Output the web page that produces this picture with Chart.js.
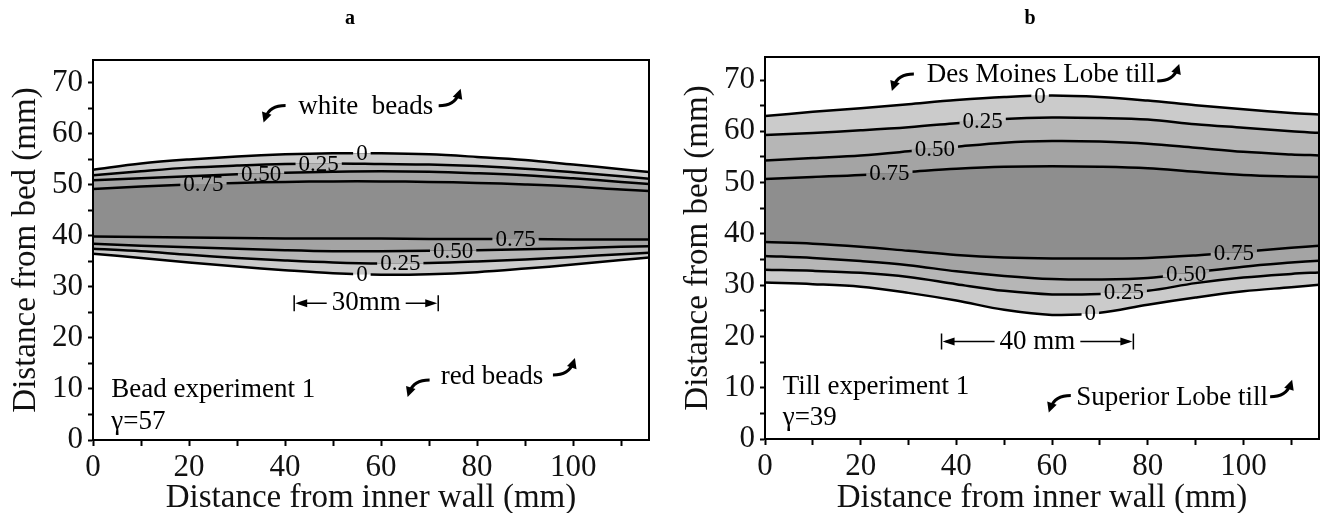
<!DOCTYPE html>
<html lang="en">
<head>
<meta charset="UTF-8">
<title>Shear zone contours</title>
<script src="https://cdn.jsdelivr.net/npm/chart.js"></script>
<style>
  body { margin: 0; background: #fff; }
  .panel { position: absolute; top: 0; }
  #panelA { left: 0; }
  #panelB { left: 660px; }
</style>
</head>
<body>
<div class="panel" id="panelA"><canvas id="chartA" width="660" height="513"></canvas></div>
<div class="panel" id="panelB"><canvas id="chartB" width="661" height="513"></canvas></div>

<script>
// x positions (distance from inner wall, mm) where contours were read
const xPos = [0, 10, 20, 30, 40, 50, 60, 70, 80, 90, 100, 110, 116];
const levels = ['0', '0.25', '0.50', '0.75'];

// panel a: bead experiment 1
const aUp0   = [53.0, 54.2, 55.0, 55.6, 56.0, 56.2, 56.2, 56.0, 55.5, 54.9, 54.0, 53.1, 52.5];
const aUp25  = [51.9, 52.7, 53.4, 53.8, 54.1, 54.2, 54.1, 54.0, 53.7, 53.2, 52.5, 51.7, 51.2];
const aUp50  = [50.9, 51.3, 51.7, 52.1, 52.4, 52.6, 52.7, 52.6, 52.3, 51.9, 51.3, 50.6, 50.2];
const aUp75  = [49.2, 49.7, 50.1, 50.4, 50.6, 50.7, 50.7, 50.6, 50.4, 50.1, 49.7, 49.1, 48.8];
const aLo75  = [39.9, 39.8, 39.7, 39.6, 39.5, 39.5, 39.5, 39.4, 39.4, 39.4, 39.3, 39.3, 39.3];
const aLo50  = [38.5, 38.1, 37.8, 37.5, 37.2, 37.0, 37.0, 37.1, 37.2, 37.4, 37.6, 37.9, 38.0];
const aLo25  = [37.5, 37.0, 36.3, 35.7, 35.2, 34.8, 34.6, 34.7, 35.0, 35.4, 35.9, 36.4, 36.7];
const aLo0   = [36.5, 35.7, 34.8, 34.0, 33.3, 32.7, 32.4, 32.5, 32.9, 33.6, 34.4, 35.3, 35.8];
// x of each contour label: upper 0, .25, .50, .75, lower .75, .50, .25, 0
const aLabelX = [56, 47, 35, 23, 88, 75, 64, 56];

// panel b: till experiment 1
const bUp0   = [63.0, 63.8, 64.5, 65.3, 66.1, 66.7, 67.0, 66.7, 66.0, 65.1, 64.3, 63.6, 63.3];
const bUp25  = [59.3, 59.7, 60.2, 60.8, 61.6, 62.4, 62.7, 62.6, 62.3, 61.4, 60.7, 60.0, 59.7];
const bUp50  = [54.3, 54.8, 55.3, 56.1, 57.0, 57.8, 58.1, 58.0, 57.6, 56.8, 56.0, 55.5, 55.3];
const bUp75  = [50.7, 51.1, 51.5, 52.1, 52.7, 53.1, 53.2, 53.1, 52.8, 52.1, 51.5, 51.2, 51.1];
const bLo75  = [38.4, 38.1, 37.5, 36.7, 35.9, 35.4, 35.2, 35.2, 35.3, 35.8, 36.5, 37.3, 37.7];
const bLo50  = [35.7, 35.3, 34.7, 33.9, 32.7, 31.8, 31.2, 31.1, 31.4, 32.5, 33.6, 34.4, 34.8];
const bLo25  = [33.0, 32.8, 32.4, 31.6, 30.2, 28.9, 28.2, 28.3, 28.9, 30.4, 31.5, 32.2, 32.5];
const bLo0   = [30.5, 30.2, 29.7, 28.5, 27.0, 25.2, 24.2, 24.6, 26.2, 27.6, 28.8, 29.6, 30.1];
const bLabelX = [57.5, 45.5, 35.5, 26, 98, 88, 75, 68];

// band shades: outside, 0-0.25, 0.25-0.5, 0.5-0.75, >0.75
const shades = ['#ffffff', '#cbcbcb', '#b6b6b6', '#a4a4a4', '#8e8e8e'];

Chart.defaults.font.family = '"Liberation Serif", "Times New Roman", serif';
Chart.defaults.color = '#111';

function toPts(ys) {
    return ys.map((y, i) => ({ x: xPos[i], y: y }));
}

// upper contours 0..0.75 then lower 0.75..0, each filled to the next one
function buildDatasets(series) {
    const fills = [shades[1], shades[2], shades[3], shades[4], shades[3], shades[2], shades[1]];
    return series.map((ys, i) => ({
        data: toPts(ys),
        borderColor: '#000',
        borderWidth: 2.5,
        pointRadius: 0,
        tension: 0.35,
        fill: i < series.length - 1 ? '+1' : false,
        backgroundColor: fills[i] || 'transparent'
    }));
}

function interp(ys, x) {
    for (let i = 0; i < xPos.length - 1; i++) {
        if (x >= xPos[i] && x <= xPos[i + 1]) {
            const t = (x - xPos[i]) / (xPos[i + 1] - xPos[i]);
            return ys[i] + t * (ys[i + 1] - ys[i]);
        }
    }
    return ys[ys.length - 1];
}

function arrowHead(ctx, x, y, ang, len, half) {
    ctx.beginPath();
    ctx.moveTo(x, y);
    ctx.lineTo(x - len * Math.cos(ang) + half * Math.sin(ang), y - len * Math.sin(ang) - half * Math.cos(ang));
    ctx.lineTo(x - len * Math.cos(ang) - half * Math.sin(ang), y - len * Math.sin(ang) + half * Math.cos(ang));
    ctx.closePath();
    ctx.fill();
}

function curl(ctx, cx, cy, dir) {
    // dir -1: curls down-left, dir 1: curls up-right
    const sx = cx - dir * 13, sy = cy + dir * 7;
    const qx = cx + dir * 3, qy = cy + dir * 7;
    const ex = cx + dir * 7, ey = cy - dir * 5;
    ctx.lineWidth = 3;
    ctx.beginPath();
    ctx.moveTo(sx, sy);
    ctx.quadraticCurveTo(qx, qy, ex, ey);
    ctx.stroke();
    arrowHead(ctx, ex + dir * 2, ey - dir * 5, Math.atan2(ey - qy, ex - qx), 10, 5);
}

function bracket(ctx, x1, x2, y, text) {
    ctx.font = '27px "Liberation Serif", serif';
    const w = ctx.measureText(text).width;
    const cx = (x1 + x2) / 2;
    ctx.textAlign = 'center';
    ctx.textBaseline = 'middle';
    ctx.fillText(text, cx, y);
    ctx.lineWidth = 1.5;
    ctx.beginPath();
    ctx.moveTo(x1, y - 8); ctx.lineTo(x1, y + 8);
    ctx.moveTo(x2, y - 8); ctx.lineTo(x2, y + 8);
    ctx.moveTo(cx - w / 2 - 5, y); ctx.lineTo(x1 + 4, y);
    ctx.moveTo(cx + w / 2 + 5, y); ctx.lineTo(x2 - 4, y);
    ctx.stroke();
    arrowHead(ctx, x1 + 1, y, Math.PI, 12, 4);
    arrowHead(ctx, x2 - 1, y, 0, 12, 4);
}

const decorPlugin = {
    id: 'decor',
    afterDatasetsDraw(chart, args, opts) {
        const ctx = chart.ctx;
        const xs = chart.scales.x, ys = chart.scales.y;
        const area = chart.chartArea;
        ctx.save();
        ctx.fillStyle = '#000';
        ctx.strokeStyle = '#000';

        // contour labels with a gap in the line
        ctx.font = '23px "Liberation Serif", serif';
        ctx.textAlign = 'center';
        ctx.textBaseline = 'middle';
        opts.series.forEach((ser, i) => {
            const upper = i < 4;
            const lvl = upper ? i : 7 - i;
            const text = levels[lvl];
            const px = xs.getPixelForValue(opts.labelX[i]);
            const py = ys.getPixelForValue(interp(ser, opts.labelX[i]));
            const w = ctx.measureText(text).width + 6;
            ctx.fillStyle = upper ? shades[lvl] : shades[lvl + 1];
            ctx.fillRect(px - w / 2, py - 4, w, 4);
            ctx.fillStyle = upper ? shades[lvl + 1] : shades[lvl];
            ctx.fillRect(px - w / 2, py, w, 4);
            ctx.fillStyle = '#000';
            ctx.fillText(text, px, py + 1);
        });

        // plot frame
        ctx.lineWidth = 2;
        ctx.strokeRect(area.left, area.top, area.right - area.left, area.bottom - area.top);

        // annotations
        ctx.font = '27px "Liberation Serif", serif';
        opts.notes.forEach(n => {
            ctx.textAlign = n.align || 'center';
            ctx.textBaseline = 'middle';
            ctx.fillText(n.text, xs.getPixelForValue(n.x), ys.getPixelForValue(n.y));
        });
        opts.curls.forEach(c => curl(ctx, xs.getPixelForValue(c.x), ys.getPixelForValue(c.y), c.dir));
        const b = opts.bracket;
        bracket(ctx, xs.getPixelForValue(b.x1), xs.getPixelForValue(b.x2), ys.getPixelForValue(b.y), b.text);

        // panel letter
        ctx.font = 'bold 20px "Liberation Serif", serif';
        ctx.textAlign = 'center';
        ctx.fillText(opts.letter, opts.letterX, 19);
        ctx.restore();
    }
};

function makeChart(id, series, cfg) {
    const canvas = document.getElementById(id);
    const W = canvas.width, H = canvas.height;
    return new Chart(canvas, {
        type: 'line',
        data: { datasets: buildDatasets(series) },
        plugins: [decorPlugin],
        options: {
            responsive: false,
            animation: false,
            layout: { padding: { left: 0, top: cfg.top, right: W - cfg.right, bottom: 0 } },
            plugins: {
                legend: { display: false },
                tooltip: { enabled: false },
                filler: { drawTime: 'beforeDatasetsDraw' },
                decor: {
                    series: series, labelX: cfg.labelX, notes: cfg.notes, curls: cfg.curls,
                    bracket: cfg.bracket, letter: cfg.letter, letterX: cfg.letterX
                }
            },
            scales: {
                x: {
                    type: 'linear', min: 0, max: 115.8,
                    afterFit: s => { s.height = H - cfg.bottom; },
                    border: { display: true, color: '#000', width: 2 },
                    grid: { drawOnChartArea: false, drawTicks: true, tickLength: 6, tickColor: '#000', tickWidth: 2 },
                    ticks: {
                        stepSize: 10, includeBounds: false, autoSkip: false, maxRotation: 0, padding: 3,
                        font: { size: 31 }, color: '#111',
                        callback: v => (v % 20 === 0 ? String(v) : '')
                    },
                    title: { display: true, text: 'Distance from inner wall (mm)', font: { size: 33, lineHeight: 0.9 }, padding: { top: 0, bottom: 0 }, color: '#111' }
                },
                y: {
                    type: 'linear', min: 0, max: 74.5,
                    afterFit: s => { s.width = cfg.left; },
                    border: { display: true, color: '#000', width: 2 },
                    grid: { drawOnChartArea: false, drawTicks: true, tickLength: 5, tickColor: '#000', tickWidth: 2 },
                    ticks: {
                        stepSize: 5, includeBounds: false, autoSkip: false, padding: 5,
                        font: { size: 31 }, color: '#111',
                        callback: v => (v % 10 === 0 ? String(v) : '')
                    },
                    title: { display: true, text: 'Distance from bed (mm)', font: { size: 33, lineHeight: 1.2 }, padding: { top: cfg.yTitlePad, bottom: 0 }, color: '#111' }
                }
            }
        }
    });
}

makeChart('chartA', [aUp0, aUp25, aUp50, aUp75, aLo75, aLo50, aLo25, aLo0], {
    left: 93, right: 649, top: 60, bottom: 440, yTitlePad: 7,
    labelX: aLabelX, letter: 'a', letterX: 350,
    notes: [
        { text: 'white  beads', x: 56.8, y: 65.4 },
        { text: 'red beads', x: 83.1, y: 12.3 },
        { text: 'Bead experiment 1', x: 3.8, y: 9.8, align: 'left' },
        { text: '\u03b3=57', x: 3.8, y: 3.5, align: 'left' }
    ],
    curls: [
        { x: 37.4, y: 64.2, dir: -1 }, { x: 74.7, y: 66.9, dir: 1 },
        { x: 67.4, y: 10.4, dir: -1 }, { x: 98.5, y: 14.1, dir: 1 }
    ],
    bracket: { x1: 41.9, x2: 71.9, y: 26.8, text: '30mm' }
});

makeChart('chartB', [bUp0, bUp25, bUp50, bUp75, bLo75, bLo50, bLo25, bLo0], {
    left: 105, right: 659, top: 57, bottom: 439, yTitlePad: 19,
    labelX: bLabelX, letter: 'b', letterX: 370,
    notes: [
        { text: 'Des Moines Lobe till', x: 57.7, y: 71.0 },
        { text: 'Superior Lobe till', x: 85.1, y: 8.1 },
        { text: 'Till experiment 1', x: 3.7, y: 10.2, align: 'left' },
        { text: '\u03b3=39', x: 3.7, y: 4.2, align: 'left' }
    ],
    curls: [
        { x: 28.4, y: 69.8, dir: -1 }, { x: 84.7, y: 71.2, dir: 1 },
        { x: 61.2, y: 7.1, dir: -1 }, { x: 108.3, y: 9.6, dir: 1 }
    ],
    bracket: { x1: 36.9, x2: 77.0, y: 19.0, text: '40 mm' }
});
</script>
</body>
</html>
